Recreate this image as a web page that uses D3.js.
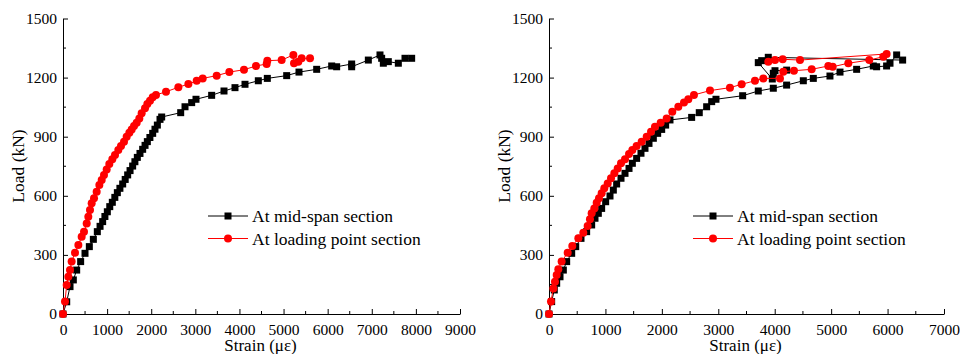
<!DOCTYPE html>
<html>
<head>
<meta charset="utf-8">
<script src="https://cdn.jsdelivr.net/npm/d3@7"></script>
<style>
  body { margin: 0; background: #fff; }
  svg { display: block; }
  svg text { font-family: "Liberation Serif", "Times New Roman", Times, "DejaVu Serif", serif; }
</style>
</head>
<body>
<svg width="960" height="354"></svg>
<script>
// Data: [strain (με), load (kN)]
var leftMid = [[0,0],[84,62],[159,139],[234,173],[310,223],[400,266],[499,308],[597,342],[688,379],[778,418],
  [840,445],[899,469],[950,495],[1005,519],[1060,545],[1118,567],[1175,592],[1232,616],[1290,638],[1353,660],
  [1410,683],[1466,706],[1520,728],[1579,751],[1630,773],[1685,795],[1745,815],[1806,836],[1860,856],[1912,875],
  [1970,896],[2033,917],[2085,938],[2139,959],[2199,988],[2237,1000],[2668,1022],[2766,1052],[2917,1073],[3015,1090],
  [3370,1110],[3650,1132],[3899,1149],[4126,1166],[4428,1184],[4632,1196],[5071,1210],[5350,1228],[5751,1242],
  [6091,1259],[6204,1255],[6544,1269],[6544,1255],[6922,1289],[7186,1315],[7224,1298],[7262,1273],[7375,1281],
  [7602,1273],[7753,1298],[7904,1298]];

var leftLoad = [[0,0],[45,63],[83,147],[121,189],[159,223],[196,266],[272,311],[348,350],[423,392],[476,418],
  [537,460],[574,494],[612,528],[650,562],[703,587],[763,621],[824,655],[877,680],[929,706],[990,734],
  [1050,761],[1118,785],[1179,807],[1254,832],[1315,853],[1383,875],[1443,900],[1504,920],[1557,937],[1610,954],
  [1670,971],[1730,993],[1783,1019],[1859,1044],[1912,1066],[1972,1083],[2033,1100],[2108,1112],[2335,1128],
  [2615,1151],[2842,1167],[3031,1184],[3167,1196],[3484,1210],[3771,1228],[4103,1240],[4375,1259],[4617,1269],
  [4632,1286],[4957,1289],[5222,1315],[5237,1273],[5335,1281],[5410,1298],[5600,1298]];

var rightMid = [[0,0],[47,63],[94,122],[136,156],[195,189],[254,223],[313,266],[402,308],[473,342],[567,384],
  [667,418],[756,452],[815,486],[874,511],[933,536],[1004,570],[1081,599],[1140,629],[1199,660],[1276,689],
  [1347,714],[1418,739],[1477,765],[1553,790],[1630,816],[1701,841],[1772,866],[1849,892],[1926,917],[1997,937],
  [2067,959],[2144,985],[2528,998],[2663,1022],[2794,1052],[2883,1078],[2959,1090],[3432,1108],[3709,1132],
  [3975,1146],[4211,1162],[4507,1184],[4684,1196],[4979,1208],[5157,1228],[5452,1242],[5747,1259],[5806,1255],
  [5983,1259],[6043,1273],[6161,1315],[6267,1289],[3886,1303],[3769,1286],[3709,1276],[3957,1193],[3975,1222],
  [4005,1235],[4212,1238]];

var rightLoad = [[0,0],[35,63],[77,130],[106,164],[136,198],[165,227],[224,266],[331,311],[413,345],[520,384],
  [608,413],[685,447],[726,481],[756,511],[803,536],[845,565],[886,587],[933,613],[980,638],[1040,663],
  [1099,689],[1158,714],[1217,739],[1276,765],[1347,785],[1418,812],[1477,832],[1553,853],[1642,875],[1731,900],
  [1808,925],[1878,951],[1979,971],[2085,993],[2185,1027],[2292,1052],[2392,1073],[2469,1090],[2569,1112],
  [2853,1134],[3207,1149],[3414,1166],[3650,1184],[3798,1196],[4093,1196],[4152,1230],[4341,1235],[4655,1242],
  [4950,1259],[5027,1255],[5304,1273],[5676,1289],[5924,1306],[5983,1320],[4448,1289],[4141,1293],[4005,1289],
  [3886,1281]];

var seriesNames = ["At mid-span section", "At loading point section"];
var yTicks = [0, 300, 600, 900, 1200, 1500];

var svg = d3.select("svg");
var serif = '"Liberation Serif", "Times New Roman", Times, "DejaVu Serif", serif';

function drawPanel(opt) {
  var x = d3.scaleLinear().domain([0, opt.xMax]).range([opt.x0, opt.x1]);
  var y = d3.scaleLinear().domain([0, 1500]).range([314, 18.5]);
  var g = svg.append("g");

  // minor ticks
  g.selectAll(".mx").data(d3.range(500, opt.xMax, 1000)).enter().append("line")
    .attr("x1", function(d){ return x(d) }).attr("x2", function(d){ return x(d) })
    .attr("y1", 314).attr("y2", 311).attr("stroke", "#000");
  g.selectAll(".my").data(d3.range(150, 1500, 300)).enter().append("line")
    .attr("y1", function(d){ return y(d) }).attr("y2", function(d){ return y(d) })
    .attr("x1", opt.x0).attr("x2", opt.x0 + 3).attr("stroke", "#000");

  var xa = g.append("g").attr("transform", "translate(0,314)")
    .call(d3.axisBottom(x).tickValues(d3.range(0, opt.xMax + 1, 1000)).tickFormat(d3.format("d"))
      .tickSize(-5).tickSizeOuter(0).tickPadding(10));
  var ya = g.append("g").attr("transform", "translate(" + opt.x0 + ",0)")
    .call(d3.axisLeft(y).tickValues(yTicks).tickFormat(d3.format("d"))
      .tickSize(-5).tickSizeOuter(0).tickPadding(6));
  [xa, ya].forEach(function(a){
    a.attr("font-family", serif).attr("font-size", 15.5);
    a.selectAll("text").attr("fill", "#000");
    a.selectAll("line,path").attr("stroke", "#000");
  });

  g.append("text").attr("x", (opt.x0 + opt.x1) / 2 - 1).attr("y", 350.5)
    .attr("text-anchor", "middle").attr("font-size", 17).text("Strain (με)");
  g.append("text").attr("transform", "translate(" + (opt.x0 - 39) + ",166) rotate(-90)")
    .attr("text-anchor", "middle").attr("font-size", 17.5).text("Load (kN)");

  var line = d3.line().x(function(d){ return x(d[0]) }).y(function(d){ return y(d[1]) });

  // mid-span: black squares
  g.append("path").datum(opt.mid).attr("d", line).attr("fill", "none").attr("stroke", "#000").attr("stroke-width", 1);
  g.selectAll(".sq").data(opt.mid).enter().append("rect")
    .attr("x", function(d){ return x(d[0]) - 3.5 }).attr("y", function(d){ return y(d[1]) - 3.5 })
    .attr("width", 7).attr("height", 7).attr("fill", "#000");

  // loading point: red circles
  g.append("path").datum(opt.load).attr("d", line).attr("fill", "none").attr("stroke", "#ff0000").attr("stroke-width", 1);
  g.selectAll(".ci").data(opt.load).enter().append("circle")
    .attr("cx", function(d){ return x(d[0]) }).attr("cy", function(d){ return y(d[1]) })
    .attr("r", 4).attr("fill", "#ff0000");

  // legend
  var lg = g.append("g");
  [0, 1].forEach(function(i){
    var cy = 216 + i * 22.5, col = i == 0 ? "#000" : "#ff0000";
    lg.append("line").attr("x1", opt.lx).attr("x2", opt.lx + 40).attr("y1", cy).attr("y2", cy).attr("stroke", col);
    if (i == 0) lg.append("rect").attr("x", opt.lx + 16.5).attr("y", cy - 3.5).attr("width", 7).attr("height", 7).attr("fill", col);
    else lg.append("circle").attr("cx", opt.lx + 20).attr("cy", cy).attr("r", 4).attr("fill", col);
    lg.append("text").attr("x", opt.lx + 44).attr("y", cy + 6).attr("font-size", 17.5).text(seriesNames[i]);
  });
}

drawPanel({x0: 63, x1: 460, xMax: 9000, mid: leftMid, load: leftLoad, lx: 208});
drawPanel({x0: 549, x1: 944, xMax: 7000, mid: rightMid, load: rightLoad, lx: 693});
</script>
</body>
</html>
